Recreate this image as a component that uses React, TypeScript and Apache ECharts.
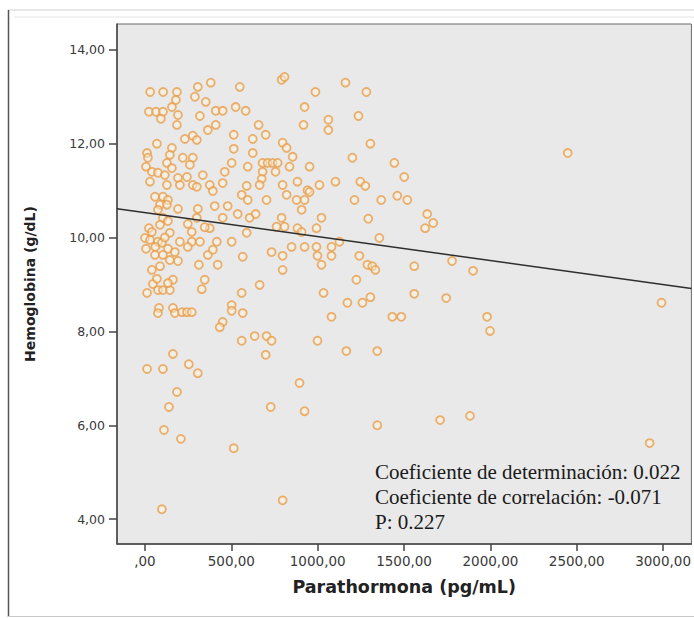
import React, { useEffect, useRef } from "react";
import * as echarts from "echarts";

// Parathormona (pg/mL) values
const parathormona = [
  30, 105, 185, 306, 381, 549, 791, 808, 987, 1161, 1282, 179, 289, 352,
  156, 23, 64, 104, 92, 191, 185, 318, 410, 450, 525, 583, 924, 918, 1062, 1062, 1236, 364, 410, 658,
  699, 514, 231, 277, 300, 69, 12, 17, 156, 144, 514, 624, 624, 797, 820, 855, 1305, 1201,
  6, 219, 277, 260, 127, 156, 40, 75, 115, 191, 243, 335, 462, 502, 595, 681, 710, 739, 768, 681, 756, 837, 953,
  676, 664, 797, 883, 1010, 1103, 1247, 1276, 1444, 1501, 29, 127, 202, 277, 375, 450, 589, 941, 393,
  560, 595, 704, 820, 878, 924, 953, 1213, 1368, 1461, 1519, 58, 104, 133, 300,
  87, 127, 191, 306, 404, 479, 907, 104, 133, 300, 450, 248, 375, 346, 271, 23, 40, 144,
  537, 606, 641, 791, 762, 808, 883, 907, 993, 1022, 589, 1634, 1669, 1622, 1293,
  0, 29, 75, 98, 202, 271, 318, 416, 502, 133, 6, 58, 104, 173, 191, 144, 87, 248, 364, 393, 312, 421,
  566, 733, 797, 849, 924, 993, 1080, 1126, 999, 1080, 1022, 797, 1241, 1288, 1357, 1316, 1334, 1559, 1778, 1900, 40,
  46, 69, 162, 346, 329, 12, 75, 104, 144, 664, 560, 1034, 1224, 1305, 1559, 1744, 133,
  81, 75, 162, 173, 214, 243, 271, 502, 502, 566, 450, 433, 1172, 1259, 1080, 1432, 1484, 1981, 1998, 2991, 2448,
  560, 635, 704, 733, 699, 999, 1166, 1345, 162, 254, 306, 12, 104, 895,
  185, 139, 728, 924, 110, 208, 514, 1345, 1709, 1882, 2922, 797, 98,
  75, 87, 115, 60,
];

// Hemoglobina (g/dL) values
const hemoglobina = [
  13.1, 13.1, 13.1, 13.21, 13.3, 13.21, 13.36, 13.42, 13.1, 13.3, 13.1, 12.93, 13.0, 12.89,
  12.78, 12.68, 12.68, 12.68, 12.53, 12.61, 12.4, 12.59, 12.7, 12.7, 12.78, 12.7, 12.78, 12.4, 12.51, 12.29, 12.59, 12.29, 12.4, 12.4,
  12.19, 12.19, 12.1, 12.17, 12.08, 12.0, 11.8, 11.7, 11.91, 11.76, 11.89, 12.1, 11.8, 12.02, 11.91, 11.72, 12.0, 11.7,
  11.51, 11.7, 11.7, 11.55, 11.59, 11.48, 11.4, 11.38, 11.33, 11.27, 11.29, 11.33, 11.4, 11.59, 11.51, 11.59, 11.59, 11.59, 11.59, 11.4, 11.4, 11.51, 11.51,
  11.25, 11.12, 11.12, 11.19, 11.12, 11.19, 11.19, 11.1, 11.59, 11.29, 11.19, 11.12, 11.12, 11.12, 11.12, 11.16, 11.1, 11.01, 10.99,
  10.91, 10.8, 10.8, 10.91, 10.8, 10.8, 10.97, 10.8, 10.8, 10.89, 10.8, 10.87, 10.87, 10.8, 11.08,
  10.7, 10.7, 10.61, 10.61, 10.67, 10.67, 10.59, 10.42, 10.35, 10.42, 10.42, 10.29, 10.2, 10.22, 10.12, 10.2, 10.12, 10.1,
  10.5, 10.42, 10.5, 10.42, 10.23, 10.23, 10.2, 10.12, 10.2, 10.42, 10.1, 10.5, 10.31, 10.2, 10.4,
  9.99, 9.95, 9.91, 9.89, 9.91, 9.91, 9.91, 9.91, 9.91, 9.76, 9.76, 9.63, 9.63, 9.69, 9.5, 9.52, 9.39, 9.8, 9.63, 9.74, 9.42, 9.42,
  9.59, 9.69, 9.61, 9.8, 9.8, 9.8, 9.8, 9.91, 9.61, 9.61, 9.42, 9.31, 9.61, 9.42, 9.99, 9.39, 9.31, 9.39, 9.5, 9.29, 9.31,
  9.01, 9.12, 9.1, 9.1, 8.9, 8.82, 8.88, 8.88, 8.88, 8.99, 8.82, 8.82, 9.1, 8.73, 8.8, 8.71, 9.03,
  8.5, 8.39, 8.5, 8.39, 8.41, 8.41, 8.41, 8.56, 8.44, 8.39, 8.2, 8.09, 8.61, 8.61, 8.31, 8.31, 8.31, 8.31, 8.01, 8.61, 11.8,
  7.8, 7.9, 7.9, 7.8, 7.5, 7.8, 7.58, 7.58, 7.52, 7.3, 7.11, 7.2, 7.2, 6.9,
  6.71, 6.39, 6.39, 6.3, 5.9, 5.71, 5.51, 6.0, 6.11, 6.2, 5.62, 4.4, 4.21,
  10.59, 10.27, 10.0, 9.8,
];

const xTicks = [0, 500, 1000, 1500, 2000, 2500, 3000];
const yTicks = [4, 6, 8, 10, 12, 14];

const statsLines = [
  "Coeficiente de determinación: 0.022",
  "Coeficiente de correlación: -0.071",
  "P: 0.227",
];

const regIntercept = 10.53;
const regSlope = -0.00051;

const X_MIN = -162;
const X_MAX = 3164;
const Y_MIN = 3.47;
const Y_MAX = 14.55;

const fmt = (v: number) => (v === 0 ? ",00" : v.toFixed(2).replace(".", ","));

export default function App() {
  const ref = useRef<HTMLDivElement>(null);

  useEffect(() => {
    if (!ref.current) return;
    const chart = echarts.init(ref.current, undefined, { renderer: "svg" });
    const points = parathormona.map((x, i) => [x, hemoglobina[i]]);
    const regLine = [
      [X_MIN, regIntercept + regSlope * X_MIN],
      [X_MAX, regIntercept + regSlope * X_MAX],
    ];
    chart.setOption({
      animation: false,
      backgroundColor: "#ffffff",
      grid: {
        left: 117,
        top: 24,
        right: 1,
        bottom: 74,
        show: true,
        backgroundColor: "#e9e9e9",
        borderColor: "#6a6a6a",
        borderWidth: 1,
      },
      xAxis: {
        type: "value",
        min: X_MIN,
        max: X_MAX,
        name: "Parathormona (pg/mL)",
        nameLocation: "middle",
        nameGap: 34,
        nameTextStyle: {
          fontFamily: "DejaVu Sans",
          fontWeight: "bold",
          fontSize: 17.5,
          color: "#222",
        },
        axisLine: { show: true, onZero: false, lineStyle: { color: "#444", width: 1.5 } },
        axisTick: {
          show: true,
          length: 7,
          customValues: xTicks,
          lineStyle: { color: "#444", width: 1.5 },
        },
        axisLabel: {
          customValues: xTicks,
          formatter: fmt,
          margin: 10,
          fontFamily: "DejaVu Sans",
          fontSize: 13.5,
          color: "#3a3a3a",
        },
        splitLine: { show: false },
      },
      yAxis: {
        type: "value",
        min: Y_MIN,
        max: Y_MAX,
        name: "Hemoglobina (g/dL)",
        nameLocation: "middle",
        nameRotate: 90,
        nameGap: 80,
        nameTextStyle: {
          fontFamily: "DejaVu Sans",
          fontWeight: "bold",
          fontSize: 14,
          color: "#222",
        },
        axisLine: { show: true, onZero: false, lineStyle: { color: "#444", width: 1.5 } },
        axisTick: {
          show: true,
          length: 8,
          customValues: yTicks,
          lineStyle: { color: "#444", width: 1.5 },
        },
        axisLabel: {
          customValues: yTicks,
          formatter: fmt,
          margin: 12,
          fontFamily: "DejaVu Sans",
          fontSize: 12.5,
          color: "#3a3a3a",
        },
        splitLine: { show: false },
      },
      series: [
        {
          type: "scatter",
          data: points,
          symbol: "circle",
          symbolSize: 8,
          itemStyle: {
            color: "rgba(255,246,222,0.55)",
            borderColor: "#e89f4c",
            borderWidth: 1.8,
          },
          z: 2,
        },
        {
          type: "line",
          data: regLine,
          showSymbol: false,
          lineStyle: { color: "#2e2e2e", width: 1.5 },
          z: 3,
        },
      ],
      graphic: [
        {
          type: "line",
          shape: { x1: 8, y1: 10, x2: 694, y2: 10 },
          style: { stroke: "#d0d0d0", lineWidth: 1 },
        },
        {
          type: "line",
          shape: { x1: 14, y1: 17, x2: 694, y2: 17 },
          style: { stroke: "#e4e4e4", lineWidth: 1 },
        },
        {
          type: "line",
          shape: { x1: 8.5, y1: 10, x2: 8.5, y2: 617 },
          style: { stroke: "#555", lineWidth: 1.5 },
        },
        {
          type: "line",
          shape: { x1: 8, y1: 616.5, x2: 694, y2: 616.5 },
          style: { stroke: "#c8c8c8", lineWidth: 1 },
        },
        ...statsLines.map((t, i) => ({
          type: "text",
          left: 375,
          top: 461 + i * 25,
          z: 10,
          style: {
            text: t,
            fontFamily: "Liberation Serif",
            fontSize: 21,
            fill: "#1a1a1a",
          },
        })),
      ],
    });
    return () => chart.dispose();
  }, []);

  return (
    <div
      ref={ref}
      style={{ position: "fixed", left: 0, top: 0, width: 694, height: 618 }}
    />
  );
}
